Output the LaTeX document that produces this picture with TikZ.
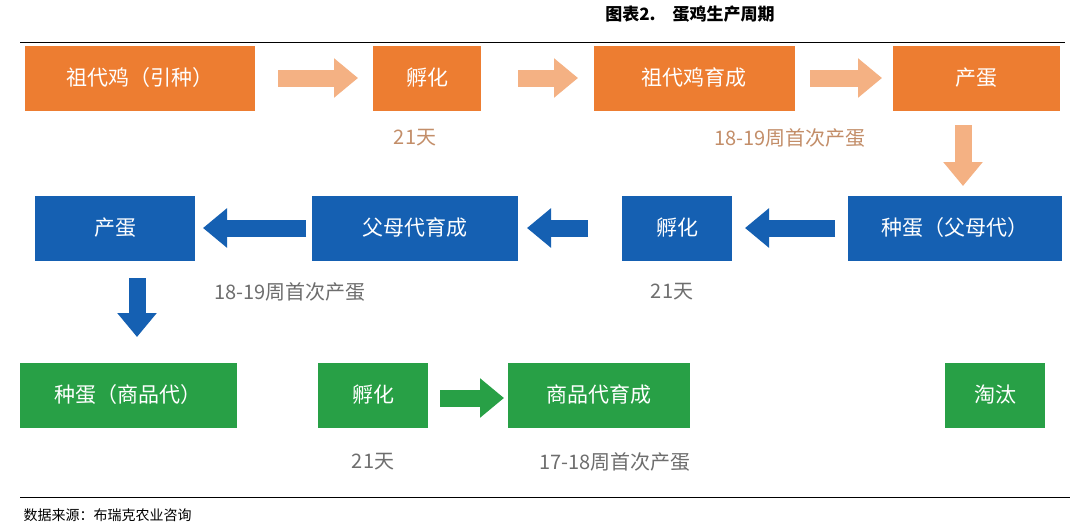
\documentclass[tikz,border=0pt]{standalone}
\usepackage{fontspec}
\setmainfont{Noto Sans CJK SC}
\usetikzlibrary{arrows.meta}
\definecolor{eggorange}{RGB}{237,125,49}
\definecolor{eggorangelt}{RGB}{244,177,131}
\definecolor{eggblue}{RGB}{21,96,178}
\definecolor{egggreen}{RGB}{40,160,70}
\definecolor{egglabel}{RGB}{110,110,110}
\begin{document}
\begin{tikzpicture}[x=1pt,y=-1pt,
  stagebox/.style={minimum height=65pt,inner sep=0pt,text=white,font=\fontsize{21}{24}\selectfont},
  orangebox/.style={stagebox,fill=eggorange},
  bluebox/.style={stagebox,fill=eggblue},
  greenbox/.style={stagebox,fill=egggreen},
  fatarrow/.style={line width=17pt,-{Triangle[length=24pt,width=38pt]}},
  periodlabel/.style={text=egglabel,font=\fontsize{20}{22}\selectfont}]
\useasboundingbox (0,0) rectangle (1080,528);
\fill[white] (0,0) rectangle (1080,528);
% title and rules
\node (title) at (690,14) {\fontsize{17}{19}\selectfont\bfseries 图表2.\quad 蛋鸡生产周期};
\draw[line width=1pt] (20,42) -- (1065,42);
\draw[line width=1pt] (20,497) -- (1070,497);
\node[anchor=west] (source) at (20,515) {\fontsize{14}{16}\selectfont 数据来源：布瑞克农业咨询};

% row 1
\node[orangebox,minimum width=230pt] (gp) at (140,78) {祖代鸡（引种）};
\node[orangebox,minimum width=108pt] (hatchA) at (427,78) {孵化};
\node[orangebox,minimum width=201pt] (gpraise) at (694,78) {祖代鸡育成};
\node[orangebox,minimum width=167pt] (layA) at (976,78) {产蛋};
\coordinate (a1s) at (278,78); \coordinate (a1e) at (358,78);
\coordinate (a2s) at (518,78); \coordinate (a2e) at (578,78);
\coordinate (a3s) at (810,78); \coordinate (a3e) at (882,78);
\draw[fatarrow,eggorangelt] (a1s) -- (a1e);
\draw[fatarrow,eggorangelt] (a2s) -- (a2e);
\draw[fatarrow,eggorangelt] (a3s) -- (a3e);
\node[periodlabel,text=eggorangelt!80!black] (dA) at (415,138) {21天};
\node[periodlabel,text=eggorangelt!80!black] (wA) at (790,138) {18-19周首次产蛋};
\coordinate (d1s) at (963,125); \coordinate (d1e) at (963,186);
\draw[fatarrow,eggorangelt] (d1s) -- (d1e);

% row 2
\node[bluebox,minimum width=160pt] (layB) at (115,228) {产蛋};
\node[bluebox,minimum width=206pt] (prraise) at (415,228) {父母代育成};
\node[bluebox,minimum width=110pt] (hatchB) at (677,228) {孵化};
\node[bluebox,minimum width=214pt] (eggB) at (955,228) {种蛋（父母代）};
\coordinate (b1s) at (835,228); \coordinate (b1e) at (745,228);
\coordinate (b2s) at (588,228); \coordinate (b2e) at (527,228);
\coordinate (b3s) at (306,228); \coordinate (b3e) at (203,228);
\draw[fatarrow,eggblue] (b1s) -- (b1e);
\draw[fatarrow,eggblue] (b2s) -- (b2e);
\draw[fatarrow,eggblue] (b3s) -- (b3e);
\node[periodlabel] (wB) at (290,292) {18-19周首次产蛋};
\node[periodlabel] (dB) at (672,292) {21天};
\coordinate (d2s) at (137,278); \coordinate (d2e) at (137,337);
\draw[fatarrow,eggblue] (d2s) -- (d2e);

% row 3
\node[greenbox,minimum width=217pt] (eggC) at (128,395) {种蛋（商品代）};
\node[greenbox,minimum width=110pt] (hatchC) at (373,395) {孵化};
\node[greenbox,minimum width=182pt] (craise) at (599,395) {商品代育成};
\node[greenbox,minimum width=100pt] (cull) at (995,395) {淘汰};
\coordinate (c1s) at (440,398); \coordinate (c1e) at (504,398);
\draw[fatarrow,egggreen] (c1s) -- (c1e);
\node[periodlabel] (dC) at (373,462) {21天};
\node[periodlabel] (wC) at (615,462) {17-18周首次产蛋};
\end{tikzpicture}
\end{document}
